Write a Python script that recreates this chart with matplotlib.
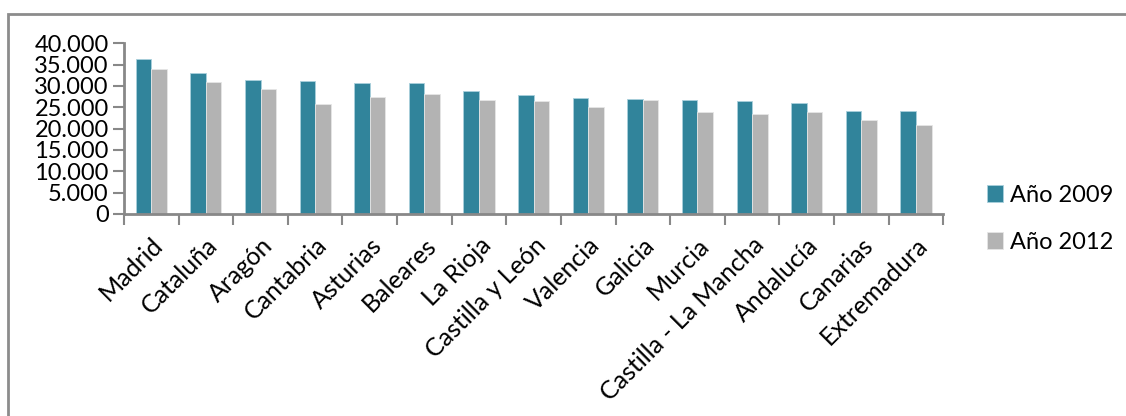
import matplotlib.pyplot as plt
import numpy as np
from matplotlib.ticker import FuncFormatter, FixedLocator
from matplotlib.patches import Rectangle

# Salario medio anual por comunidad autónoma (euros)
regiones = ['Madrid', 'Cataluña', 'Aragón', 'Cantabria', 'Asturias', 'Baleares',
            'La Rioja', 'Castilla y León', 'Valencia', 'Galicia', 'Murcia',
            'Castilla - La Mancha', 'Andalucía', 'Canarias', 'Extremadura']
anio_2009 = [36300, 33000, 31500, 31100, 30800, 30700, 28900, 27900,
             27100, 27000, 26700, 26400, 26100, 24200, 24100]
anio_2012 = [33900, 30900, 29300, 25700, 27400, 28200, 26700, 26400,
             25100, 26600, 23800, 23500, 23800, 22000, 20800]

plt.rcParams['font.family'] = ['Lato', 'DejaVu Sans']

fig = plt.figure(figsize=(11.26, 4.16), dpi=100)
ax = fig.add_axes([0.1101, 0.4856, 0.7276, 0.4103])

x = np.arange(len(regiones))
w = 0.285
ax.bar(x - w / 2, anio_2009, w, color='#31849B', edgecolor='#a9d0dc', linewidth=0.6, label='Año 2009')
ax.bar(x + w / 2, anio_2012, w, color='#B3B3B3', edgecolor='#e6e6e6', linewidth=0.6, label='Año 2012')

ax.set_xlim(-0.5, len(regiones) - 0.5)
ax.set_ylim(0, 40000)
ax.set_yticks(range(0, 40001, 5000))
ax.yaxis.set_major_formatter(FuncFormatter(lambda v, p: f'{int(v):,}'.replace(',', '.')))

# category labels on major ticks, tick marks at category boundaries
ax.set_xticks(x)
ax.set_xticklabels(regiones, rotation=45, ha='right', rotation_mode='anchor', fontsize=18)
ax.tick_params(axis='x', which='major', length=0, pad=14)
ax.xaxis.set_minor_locator(FixedLocator(np.arange(-0.5, len(regiones), 1.0)))
ax.tick_params(axis='x', which='minor', length=8, width=1.5, color='#888888', direction='out')
ax.tick_params(axis='y', length=8, width=1.5, color='#888888', labelsize=17, pad=3)

for s in ['top', 'right']:
    ax.spines[s].set_visible(False)
for s in ['left', 'bottom']:
    ax.spines[s].set_color('#888888')
    ax.spines[s].set_linewidth(2)

ax.legend(loc='center left', bbox_to_anchor=(1.027, -0.027), frameon=False, fontsize=17,
          handlelength=0.7, handleheight=0.7, handletextpad=0.3, labelspacing=1.1)

# outer chart frame
fig.patches.append(Rectangle((8 / 1126, -0.05), 1.2, 1 - 14 / 416 + 0.05, transform=fig.transFigure,
                             fill=False, edgecolor='#8c8c8c', linewidth=2))

fig.savefig('out.png', dpi=100)
